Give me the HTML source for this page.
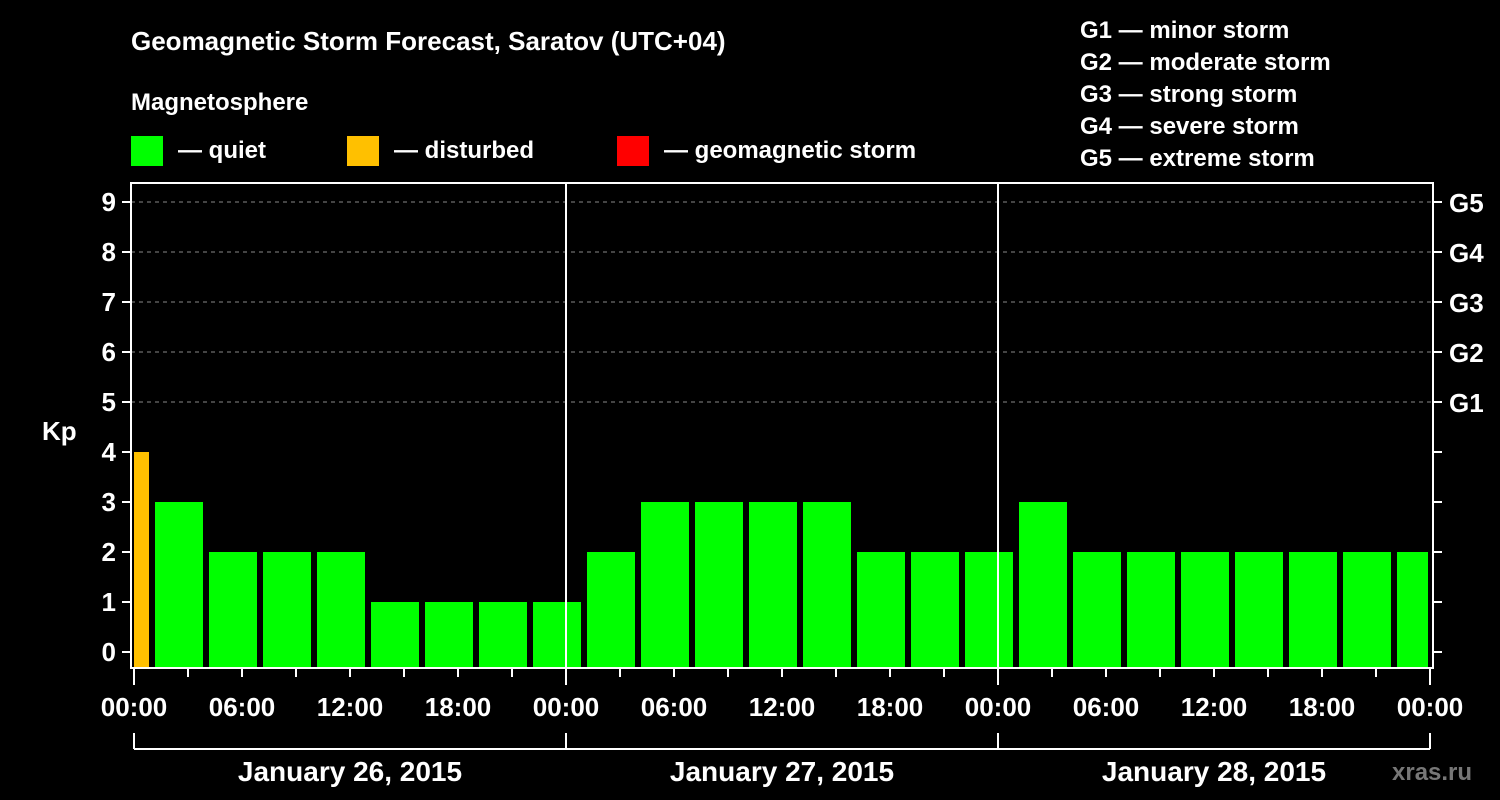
<!DOCTYPE html>
<html><head><meta charset="utf-8"><style>
body{margin:0;background:#000;}
svg{display:block;font-family:"Liberation Sans",sans-serif;font-weight:bold;}
</style></head><body>
<svg id="chart" width="1500" height="800" viewBox="0 0 1500 800">
<rect width="1500" height="800" fill="#000"/>
<text x="131" y="50" fill="#fff" font-size="26">Geomagnetic Storm Forecast, Saratov (UTC+04)</text>
<text x="131" y="110" fill="#fff" font-size="24">Magnetosphere</text>
<g><rect x="131" y="136" width="32" height="30" fill="#00ff00"/><text x="178" y="158" fill="#fff" font-size="24">— quiet</text></g>
<g><rect x="347" y="136" width="32" height="30" fill="#ffc000"/><text x="394" y="158" fill="#fff" font-size="24">— disturbed</text></g>
<g><rect x="617" y="136" width="32" height="30" fill="#ff0000"/><text x="664" y="158" fill="#fff" font-size="24">— geomagnetic storm</text></g>
<g fill="#fff" font-size="24">
<text x="1080" y="38">G1 — minor storm</text>
<text x="1080" y="70">G2 — moderate storm</text>
<text x="1080" y="102">G3 — strong storm</text>
<text x="1080" y="134">G4 — severe storm</text>
<text x="1080" y="166">G5 — extreme storm</text>
</g>
<text x="42" y="440" fill="#fff" font-size="26">Kp</text>
<text x="1392" y="780" fill="#777" font-size="24">xras.ru</text>
<g id="grid"></g><g id="bars"></g><g id="axes"></g>
</svg>
<script>
const kpValues=[4,3,2,2,2,1,1,1,1,2,3,3,3,3,2,2,2,3,2,2,2,2,2,2,2];
const barStartHours=[0,1,4,7,10,13,16,19,22,25,28,31,34,37,40,43,46,49,52,55,58,61,64,67,70];
const dayLabels=["January 26, 2015","January 27, 2015","January 28, 2015"];
const hourLabels=["00:00","06:00","12:00","18:00"];
const gLabels=["G1","G2","G3","G4","G5"];
const NS="http://www.w3.org/2000/svg";
const X0=134,PXH=18,Y0=652,PXK=50,BOT=668,LEFT=131,RIGHT=1433,TOP=183;
const xs=h=>X0+h*PXH, ys=k=>Y0-k*PXK;
function mk(t,a,p){const e=document.createElementNS(NS,t);for(const k in a)e.setAttribute(k,a[k]);p.appendChild(e);return e;}
const grid=document.getElementById('grid'),bars=document.getElementById('bars'),axes=document.getElementById('axes');
for(let k=5;k<=9;k++){const l=mk('line',{x1:LEFT,x2:RIGHT,y1:ys(k),y2:ys(k),stroke:'#888','stroke-dasharray':'4,4','stroke-width':1},grid);

}
kpValues.forEach((v,i)=>{const s=barStartHours[i];const e=i+1<barStartHours.length?barStartHours[i+1]:72;
const x1=s===0?xs(0):xs(s)+3, x2=xs(e)-(e===72?2:3);
const col=v>=5?'#ff0000':(v>=4?'#ffc000':'#00ff00');
const r=mk('rect',{x:x1,y:ys(v),width:x2-x1,height:BOT-1-ys(v),fill:col},bars);

});
// day separators
for(let d=1;d<3;d++){const l=mk('line',{x1:xs(d*24),x2:xs(d*24),y1:TOP,y2:BOT,stroke:'#fff','stroke-width':2},axes);

}
const frame=mk('rect',{x:LEFT,y:TOP,width:RIGHT-LEFT,height:BOT-TOP,fill:'none',stroke:'#fff','stroke-width':2},axes);


for(let k=0;k<=9;k++){
mk('line',{x1:122,x2:LEFT,y1:ys(k),y2:ys(k),stroke:'#fff','stroke-width':2},axes);
mk('line',{x1:RIGHT,x2:1442,y1:ys(k),y2:ys(k),stroke:'#fff','stroke-width':2},axes);
const t=mk('text',{x:116,y:ys(k)+9,fill:'#fff','font-size':26,'text-anchor':'end'},axes);t.textContent=k;

}
gLabels.forEach((g,i)=>{const t=mk('text',{x:1449,y:ys(5+i)+10,fill:'#fff','font-size':26},axes);t.textContent=g;

});
for(let h=0;h<=72;h+=3){const major=h%24===0;
mk('line',{x1:xs(h),x2:xs(h),y1:BOT,y2:major?685:677,stroke:'#fff','stroke-width':2},axes);
if(h%6===0){const t=mk('text',{x:xs(h),y:716,fill:'#fff','font-size':26,'text-anchor':'middle'},axes);t.textContent=hourLabels[(h%24)/6];

}}
mk('line',{x1:xs(0),x2:xs(72),y1:749,y2:749,stroke:'#fff','stroke-width':2},axes);
for(let d=0;d<=3;d++)mk('line',{x1:xs(d*24),x2:xs(d*24),y1:733,y2:749,stroke:'#fff','stroke-width':2},axes);
dayLabels.forEach((s,d)=>{const t=mk('text',{x:xs(d*24+12),y:781,fill:'#fff','font-size':28,'text-anchor':'middle'},axes);t.textContent=s;

});
</script>
</body></html>
